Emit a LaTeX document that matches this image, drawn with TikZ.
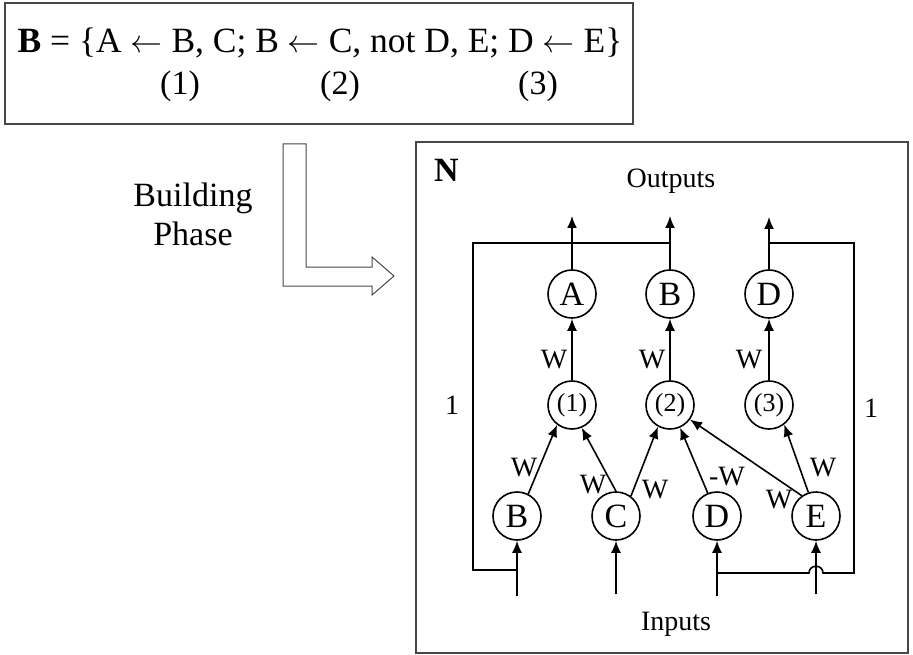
\RequirePackage{fix-cm}
\documentclass[tikz,border=0pt]{standalone}
\usepackage{fontspec}
\setmainfont{Liberation Serif}
\usetikzlibrary{arrows.meta}
\newcommand{\larr}{\mbox{\fontsize{32}{32}\selectfont$\leftarrow$}}
\begin{document}
\begin{tikzpicture}[x=1pt,y=-1pt,
  neuron/.style={draw, circle, line width=1.6pt, minimum size=48pt, inner sep=0pt, font=\fontsize{34}{34}\selectfont},
  ruleneuron/.style={neuron, font=\fontsize{26}{26}\selectfont},
  conn/.style={line width=1.6pt, -{Latex[length=12pt,width=10pt]}},
  wire/.style={line width=1.6pt},
  lab/.style={font=\fontsize{28}{28}\selectfont, inner sep=0pt},
  big/.style={font=\fontsize{34}{34}\selectfont, inner sep=0pt},
  frame/.style={draw=black!72, line width=1.2pt}
]
\useasboundingbox (0,0) rectangle (913,655);
% program box
\draw[frame] (5,3) rectangle (633,124);
\node[big, font=\fontsize{35.5}{35.5}\selectfont, anchor=base] (rules) at (320,53) {\textbf{B} = \{A \larr{} B, C; B \larr{} C, not D, E; D \larr{} E\}};
\node[big, anchor=base] (n1) at (180,95) {(1)};
\node[big, anchor=base] (n2) at (340,95) {(2)};
\node[big, anchor=base] (n3) at (538,95) {(3)};
% building phase
\node[big, anchor=base] (bld) at (193,207) {Building};
\node[big, anchor=base] (phs) at (193,245) {Phase};
\draw[frame, line width=1pt] (283,144) -- (306,144) -- (306,267) -- (372,267) -- (372,257) -- (394,276) -- (372,295) -- (372,286) -- (283,286) -- cycle;
% network box
\draw[frame] (416,142) rectangle (908,653);
\node[anchor=base west, inner sep=0pt, font=\fontsize{34}{34}\selectfont\bfseries] (N) at (434,182) {N};
\node[lab, anchor=base] (outs) at (671,188) {Outputs};
\node[lab, anchor=base] (ins) at (676,630) {Inputs};
\node[lab] (oneL) at (452,405) {1};
\node[lab] (oneR) at (871,408) {1};
% neurons
\node[neuron] (A) at (572,294) {A};
\node[neuron] (Bo) at (670,294) {B};
\node[neuron] (Do) at (769,294) {D};
\node[ruleneuron] (r1) at (572,405) {(1)};
\node[ruleneuron] (r2) at (670,405) {(2)};
\node[ruleneuron] (r3) at (769,405) {(3)};
\node[neuron] (Bi) at (517,516) {B};
\node[neuron] (Ci) at (616,516) {C};
\node[neuron] (Di) at (717,516) {D};
\node[neuron] (Ei) at (816,516) {E};
% free ends
\coordinate (oA) at (572,216);
\coordinate (oB) at (670,216);
\coordinate (oD) at (769,217);
\coordinate (iB) at (517,596);
\coordinate (iC) at (616,594);
\coordinate (iD) at (717,596);
\coordinate (iE) at (816,594);
\coordinate (tapB) at (670,243);
\coordinate (tapD) at (769,243);
\coordinate (jB) at (517,570);
\coordinate (jD) at (717,573);
% outputs
\draw[conn] (A) -- (oA);
\draw[conn] (Bo) -- (oB);
\draw[conn] (Do) -- (oD);
% rule to head
\draw[conn] (r1) -- (A);
\draw[conn] (r2) -- (Bo);
\draw[conn] (r3) -- (Do);
% inputs to rules
\draw[conn] (Bi.63) -- (r1.-127);
\draw[conn] (Ci.90) -- (r1.-67);
\draw[conn] (Ci.53) -- (r2.-119);
\draw[conn] (Di.112) -- (r2.-66);
\draw[conn] (Ei.125) -- (r2.-36);
\draw[conn] (Ei.108) -- (r3.-52);
% inputs
\draw[conn] (iB) -- (Bi);
\draw[conn] (iC) -- (Ci);
\draw[conn] (iD) -- (Di);
\draw[conn] (iE) -- (Ei);
% feedback
\draw[wire] (tapB) -- (473,243) -- (473,570) -- (jB);
\draw[wire] (tapD) -- (854,243) -- (854,573) -- (823,573) .. controls (823,564) and (809,564) .. (809,573) -- (jD);
% weights
\node[lab] (wA) at (554,360) {W};
\node[lab] (wB) at (652,360) {W};
\node[lab] (wD) at (749,360) {W};
\node[lab] (w1) at (524,468) {W};
\node[lab] (w2) at (593,485) {W};
\node[lab] (w3) at (655,490) {W};
\node[lab] (w4) at (727,477) {-W};
\node[lab] (w5) at (779,500) {W};
\node[lab] (w6) at (823,468) {W};
\end{tikzpicture}
\end{document}
